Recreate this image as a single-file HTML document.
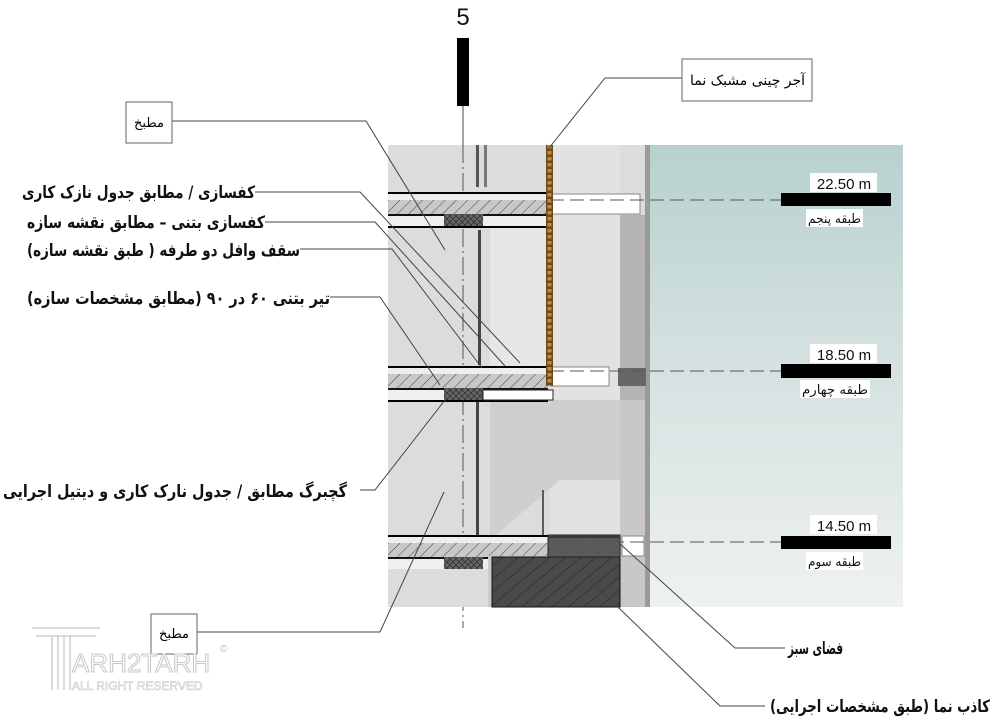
<!DOCTYPE html>
<html><head><meta charset="utf-8"><style>
html,body{margin:0;padding:0;background:#fff;}
svg{display:block;}
text{font-family:"Liberation Sans","DejaVu Sans",sans-serif;}
.fa{font-family:"DejaVu Sans","Liberation Sans",sans-serif;}
</style></head><body>
<svg width="1000" height="720" viewBox="0 0 1000 720" xmlns="http://www.w3.org/2000/svg">
<defs>
<linearGradient id="teal" x1="0" y1="0" x2="0" y2="1">
<stop offset="0" stop-color="#b7d1cf"/><stop offset="0.5" stop-color="#d6e2e1"/><stop offset="1" stop-color="#eef1f1"/>
</linearGradient>
<pattern id="hatch" width="8" height="8" patternUnits="userSpaceOnUse" patternTransform="rotate(45)">
<rect width="8" height="8" fill="#c8c8c8"/><line x1="0" y1="0" x2="0" y2="8" stroke="#444" stroke-width="1"/>
</pattern>
<pattern id="xh" width="6" height="6" patternUnits="userSpaceOnUse">
<rect width="6" height="6" fill="#666"/><path d="M0 0L6 6M6 0L0 6" stroke="#333" stroke-width="0.8"/>
</pattern>
<pattern id="dk" width="10" height="10" patternUnits="userSpaceOnUse" patternTransform="rotate(50)">
<rect width="10" height="10" fill="#4a4a4a"/><line x1="0" y1="0" x2="0" y2="10" stroke="#222" stroke-width="1"/>
</pattern>
<pattern id="brick" width="7" height="6" patternUnits="userSpaceOnUse">
<rect width="7" height="6" fill="#6a4a1c"/><rect x="1.5" y="1" width="4" height="3.5" fill="#c08a3a"/>
</pattern>
</defs>

<rect x="388" y="145" width="262" height="462" fill="#dcdcdc"/>
<rect x="550" y="145" width="70" height="462" fill="#e2e2e2"/>
<rect x="620" y="215" width="28" height="392" fill="#b4b4b4"/>
<rect x="620" y="400" width="28" height="207" fill="#c8c8c8"/>
<rect x="645" y="145" width="5" height="462" fill="#9a9a9a"/>
<rect x="650" y="145" width="253" height="462" fill="url(#teal)"/>
<polygon points="490,400 620,400 620,480 560,480 490,540" fill="#cfcfcf"/>
<rect x="490" y="210" width="60" height="160" fill="#e6e6e6"/>

<text x="463" y="25" font-size="24" text-anchor="middle" fill="#111">5</text>
<rect x="457" y="38" width="12" height="68" fill="#000"/>
<line x1="463" y1="106" x2="463" y2="145" stroke="#444" stroke-width="1"/>
<line x1="463" y1="145" x2="463" y2="628" stroke="#555" stroke-width="1" stroke-dasharray="18,4,2,4"/>

<rect x="476" y="145" width="3" height="42" fill="#555"/>
<rect x="484" y="145" width="3" height="42" fill="#777"/>
<rect x="478" y="230" width="3" height="135" fill="#444"/>
<rect x="476" y="400" width="3" height="135" fill="#444"/>
<line x1="543" y1="490" x2="543" y2="535" stroke="#333" stroke-width="1.5"/>

<g id="s1">
<rect x="388" y="192" width="160" height="2" fill="#000"/>
<rect x="388" y="194" width="160" height="6" fill="#eeeeee"/>
<rect x="388" y="200" width="160" height="14" fill="url(#hatch)"/>
<rect x="388" y="214" width="160" height="2" fill="#111"/>
<rect x="388" y="216" width="56" height="10" fill="#efefef"/>
<rect x="483" y="216" width="65" height="10" fill="#efefef"/>
<rect x="444" y="214" width="39" height="13" fill="url(#xh)"/>
<rect x="388" y="226" width="160" height="2" fill="#000"/>
</g>
<use href="#s1" y="174"/>
<rect x="483" y="390" width="70" height="10" fill="#fff" stroke="#222" stroke-width="1"/>
<use href="#s1" y="343"/>
<rect x="388" y="569" width="100" height="38" fill="#dcdcdc"/>

<rect x="550" y="194" width="90" height="20" fill="#fff" stroke="#888"/>
<rect x="550" y="367" width="59" height="19" fill="#fff" stroke="#888"/>
<rect x="618" y="368" width="28" height="18" fill="#666"/>
<rect x="622" y="536" width="22" height="20" fill="#fff" stroke="#888"/>

<rect x="488" y="556" width="132" height="51" fill="#ccc"/>
<rect x="492" y="557" width="128" height="50" fill="url(#dk)" stroke="#111"/>
<rect x="548" y="535" width="72" height="22" fill="#5a5a5a" stroke="#222"/>
<rect x="548" y="535" width="72" height="3" fill="#2f3f3f"/>

<rect x="546" y="145" width="7" height="241" fill="url(#brick)"/>

<g stroke="#555" stroke-width="1">
<line x1="550" y1="200" x2="782" y2="200" stroke-dasharray="14,6"/>
<line x1="550" y1="371" x2="782" y2="371" stroke-dasharray="14,6"/>
<line x1="550" y1="542" x2="782" y2="542" stroke-dasharray="14,6"/>
</g>
<rect x="781" y="193" width="110" height="13" fill="#000"/>
<rect x="781" y="364" width="110" height="14" fill="#000"/>
<rect x="781" y="536" width="110" height="13" fill="#000"/>
<g font-size="15" fill="#111">
<rect x="810" y="173" width="67" height="19" fill="#fff"/><text x="844" y="189" text-anchor="middle">22.50 m</text>
<rect x="810" y="344" width="67" height="19" fill="#fff"/><text x="844" y="360" text-anchor="middle">18.50 m</text>
<rect x="810" y="515" width="67" height="19" fill="#fff"/><text x="844" y="531" text-anchor="middle">14.50 m</text>
</g>
<g font-size="13" fill="#111">
<rect x="806" y="209" width="57" height="18" fill="#fff"/><text x="808" y="223" class="fa" textLength="53" lengthAdjust="spacingAndGlyphs">طبقه پنجم</text>
<rect x="800" y="380" width="70" height="18" fill="#fff"/><text x="802" y="394" class="fa" textLength="66" lengthAdjust="spacingAndGlyphs">طبقه چهارم</text>
<rect x="806" y="552" width="57" height="18" fill="#fff"/><text x="808" y="566" class="fa" textLength="53" lengthAdjust="spacingAndGlyphs">طبقه سوم</text>
</g>

<g stroke="#444" stroke-width="1" fill="none">
<polyline points="172,121 366,121 445,250"/>
<polyline points="255,192 360,192 520,363"/>
<polyline points="265,222 375,222 505,366"/>
<polyline points="300,249 392,249 482,368"/>
<polyline points="330,297 380,297 440,385"/>
<polyline points="360,490 375,490 445,400"/>
<polyline points="197,632 380,632 444,492"/>
<polyline points="682,78 605,78 549,148"/>
<polyline points="785,648 735,648 618,542"/>
<polyline points="765,706 720,706 590,580"/>
</g>

<rect x="126" y="102" width="46" height="41" fill="#fff" stroke="#666"/>
<text x="134" y="127" class="fa" font-size="13" textLength="30" lengthAdjust="spacingAndGlyphs">مطبخ</text>
<rect x="151" y="614" width="46" height="40" fill="#fff" stroke="#666"/>
<text x="159" y="638" class="fa" font-size="13" textLength="30" lengthAdjust="spacingAndGlyphs">مطبخ</text>
<rect x="682" y="59" width="130" height="42" fill="#fff" stroke="#666"/>
<text x="690" y="85" class="fa" font-size="14" textLength="115" lengthAdjust="spacingAndGlyphs">آجر چینی مشبک نما</text>

<g font-size="17" fill="#111" font-weight="bold">
<text x="22" y="198" class="fa" textLength="233" lengthAdjust="spacingAndGlyphs">کفسازی / مطابق جدول نازک کاری</text>
<text x="27" y="228" class="fa" textLength="238" lengthAdjust="spacingAndGlyphs">کفسازی بتنی –  مطابق نقشه سازه</text>
<text x="27" y="256" class="fa" textLength="273" lengthAdjust="spacingAndGlyphs">سقف وافل دو طرفه ( طبق نقشه سازه)</text>
<text x="27" y="304" class="fa" textLength="303" lengthAdjust="spacingAndGlyphs">تیر بتنی ۶۰ در ۹۰ (مطابق مشخصات سازه)</text>
<text x="3" y="497" class="fa" textLength="344" lengthAdjust="spacingAndGlyphs">گچبرگ مطابق  /  جدول نارک کاری و دیتیل اجرایی</text>
<text x="788" y="654" class="fa" textLength="55" lengthAdjust="spacingAndGlyphs">فضای سبز</text>
<text x="770" y="712" class="fa" textLength="220" lengthAdjust="spacingAndGlyphs">کاذب نما (طبق مشخصات اجرایی)</text>
</g>

<g fill="none" stroke="#cfcfcf" stroke-width="1.5">
<path d="M32 628 H100 M36 636 H96 M52 636 V690 M58 636 V690 M64 636 V690 M70 636 V690"/>
</g>
<text x="72" y="672" font-size="26" fill="#fff" stroke="#c8c8c8" stroke-width="1">ARH2TARH</text>
<text x="72" y="690" font-size="12" fill="#fff" stroke="#c8c8c8" stroke-width="0.6">ALL RIGHT RESERVED</text>
<text x="220" y="652" font-size="10" fill="#bbb">©</text>
</svg>
</body></html>
